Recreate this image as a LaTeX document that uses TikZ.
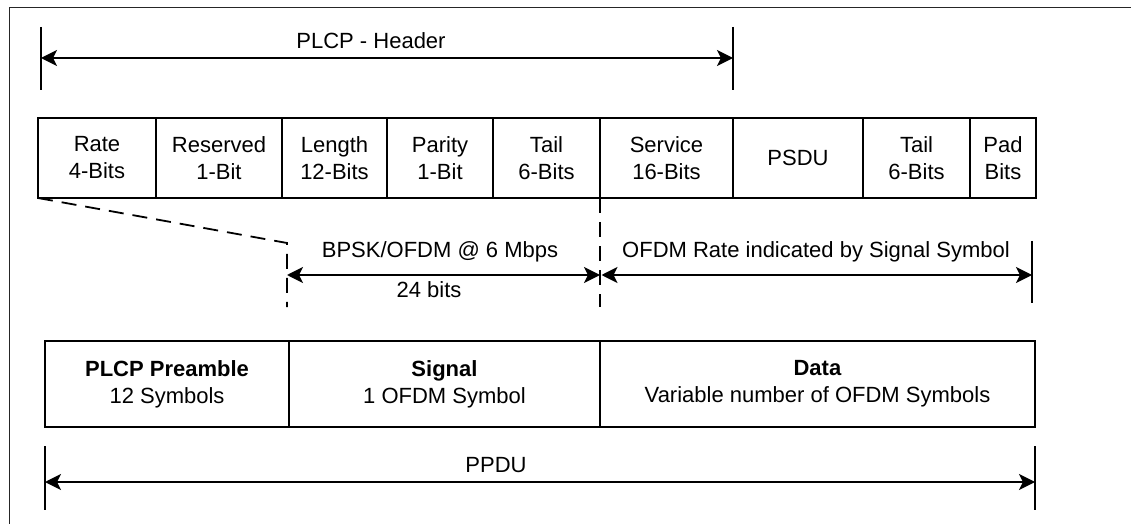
\documentclass[tikz,border=0pt]{standalone}
\usepackage{fontspec}
\setmainfont{Liberation Sans}
\usetikzlibrary{arrows.meta}
\begin{document}
\begin{tikzpicture}[x=0.5pt,y=-0.5pt,
    field/.style={draw,line width=1.2pt,inner sep=0pt,outer sep=0pt,align=center,
        minimum height=40pt,font=\fontsize{11}{13.5}\selectfont},
    slot/.style={draw,line width=1.1pt,inner sep=0pt,outer sep=0pt,align=center,
        minimum height=43pt,font=\fontsize{11}{13.5}\selectfont},
    lbl/.style={anchor=base,inner sep=0pt,font=\fontsize{11}{13.5}\selectfont},
    tick/.style={line width=0.9pt},
    cut/.style={line width=0.9pt,dash pattern=on 7.5pt off 4.5pt},
    dim/.style={line width=0.9pt,
        {Stealth[length=8pt,width=8pt,inset=2pt]}-{Stealth[length=8pt,width=8pt,inset=2pt]}}]
    \useasboundingbox (0,0) rectangle (1131,524);
    \draw[line width=0.6pt,black!85] (9.5,524) -- (9.5,7.5) -- (1131,7.5);
    % PLCP header span
    \coordinate (hdrL) at (41,58);
    \coordinate (hdrR) at (733,58);
    \draw[tick] (41,27) -- (41,90);
    \draw[tick] (733,27) -- (733,90);
    \draw[dim] (hdrL) -- (hdrR);
    \node[lbl] (hdr) at (371,49) {PLCP - Header};
    % frame fields
    \node[field,minimum width=59pt] (rate) at (97,158) {Rate\\4-Bits};
    \node[field,minimum width=63pt] (reserved) at (219,158) {Reserved\\1-Bit};
    \node[field,minimum width=52.5pt] (length) at (334.5,158) {Length\\12-Bits};
    \node[field,minimum width=53pt] (parity) at (440,158) {Parity\\1-Bit};
    \node[field,minimum width=53.5pt] (tail) at (546.5,158) {Tail\\6-Bits};
    \node[field,minimum width=66.5pt] (service) at (666.5,158) {Service\\16-Bits};
    \node[field,minimum width=65pt] (psdu) at (798,158) {PSDU};
    \node[field,minimum width=53.5pt] (tailB) at (916.5,158) {Tail\\6-Bits};
    \node[field,minimum width=33pt] (pad) at (1003,158) {Pad\\Bits};
    % dashed guides
    \draw[cut] (rate.south west) -- (287,243) -- (287,307);
    \draw[cut] (tail.south east) -- (600,307);
    % rate spans
    \coordinate (bpskL) at (287,275);
    \coordinate (bpskR) at (600,275);
    \coordinate (ofdmL) at (601.5,275);
    \coordinate (ofdmR) at (1032,275);
    \draw[dim] (bpskL) -- (bpskR);
    \draw[dim] (ofdmL) -- (ofdmR);
    \draw[tick] (1032,241) -- (1032,303);
    \node[lbl] (bpsk) at (440,257) {BPSK/OFDM @ 6 Mbps};
    \node[lbl] (bits) at (429,297) {24 bits};
    \node[lbl] (ofdm) at (816,257) {OFDM Rate indicated by Signal Symbol};
    % PPDU parts
    \node[slot,minimum width=122pt] (preamble) at (167,384) {\textbf{PLCP Preamble}\\12 Symbols};
    \node[slot,minimum width=155.5pt] (signal) at (444.5,384) {\textbf{Signal}\\1 OFDM Symbol};
    \node[slot,minimum width=217.5pt] (data) at (817.5,384) {\textbf{Data}\\Variable number of OFDM Symbols};
    % PPDU span
    \coordinate (ppduL) at (45,482);
    \coordinate (ppduR) at (1035,482);
    \draw[tick] (45,446) -- (45,510);
    \draw[tick] (1035,446) -- (1035,510);
    \draw[dim] (ppduL) -- (ppduR);
    \node[lbl] (ppdu) at (496,472) {PPDU};
\end{tikzpicture}
\end{document}
